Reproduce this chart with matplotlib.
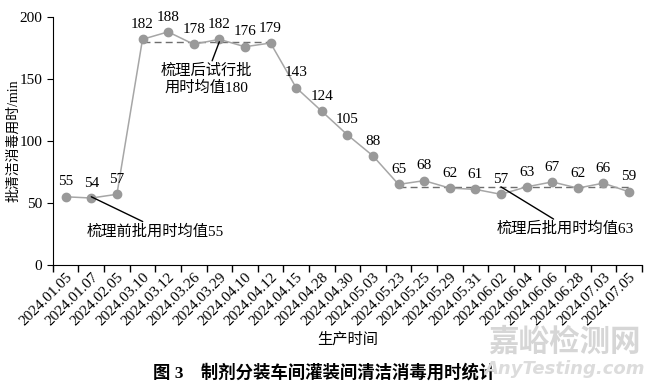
import matplotlib.pyplot as plt
import numpy as np

plt.rcParams['font.family'] = ['Liberation Serif', 'Noto Sans CJK SC']

dates = ['2024.01.05', '2024.01.07', '2024.02.05', '2024.03.10', '2024.03.12',
         '2024.03.26', '2024.03.29', '2024.04.10', '2024.04.12', '2024.04.15',
         '2024.04.28', '2024.04.30', '2024.05.03', '2024.05.23', '2024.05.25',
         '2024.05.29', '2024.05.31', '2024.06.02', '2024.06.04', '2024.06.06',
         '2024.06.28', '2024.07.03', '2024.07.05']
minutes = [55, 54, 57, 182, 188, 178, 182, 176, 179, 143, 124, 105, 88,
           65, 68, 62, 61, 57, 63, 67, 62, 66, 59]
# 均值线: (起始序号, 结束序号, 均值)
mean_trial = (3, 8, 180)
mean_after = (13, 22, 63)

fig = plt.figure(figsize=(6.45, 3.86), dpi=100)
ax = fig.add_axes([0.082, 0.3135, 0.913, 0.6425])

x = np.arange(len(dates))
ax.plot(x, minutes, color='#a6a6a6', lw=1.1, marker='o', ms=6,
        markerfacecolor='#999999', markeredgecolor='#999999', zorder=3)
for s, e, m in (mean_trial, mean_after):
    ax.plot([s, e], [m, m], color='#6e6e6e', lw=1, ls=(0, (5, 3)), zorder=2)

for xi, v in zip(x, minutes):
    ax.annotate(str(v), (xi, v), xytext=(0, 6), textcoords='offset points',
                ha='center', va='bottom', fontsize=11)

ax.set_xlim(-0.5, len(dates) - 0.5)
ax.set_ylim(0, 200)
ax.set_yticks([0, 50, 100, 150, 200])
ax.set_xticks(x)
ax.set_xticklabels(dates, rotation=45, ha='right', rotation_mode='anchor', fontsize=11)
ax.set_xticks(np.arange(-0.5, len(dates)), minor=True)
ax.tick_params(axis='x', which='major', length=0, pad=4)
ax.tick_params(axis='x', which='minor', length=5, width=1, direction='out')
ax.tick_params(axis='y', labelsize=11, length=4, direction='out')
ax.spines['top'].set_visible(False)
ax.spines['right'].set_visible(False)

ax.set_ylabel('批清洁消毒用时/min', fontsize=10)
ax.yaxis.set_label_coords(-0.056, 0.5)
ax.set_xlabel('生产时间', fontsize=11, labelpad=3)

# 注释
ax.annotate('梳理后试行批\n用时均值180', xy=(6, 180), xytext=(5.5, 150),
            ha='center', va='center', fontsize=11, linespacing=1.2,
            arrowprops=dict(arrowstyle='-', color='black', lw=1, shrinkA=0, shrinkB=0,
                            relpos=(0.55, 1.0)))
ax.annotate('梳理前批用时均值55', xy=(1, 55), xytext=(3.5, 27),
            ha='center', va='center', fontsize=11,
            arrowprops=dict(arrowstyle='-', color='black', lw=1, shrinkA=0, shrinkB=0,
                            relpos=(0.45, 1.0)))
ax.annotate('梳理后批用时均值63', xy=(17, 63), xytext=(19.5, 29),
            ha='center', va='center', fontsize=11,
            arrowprops=dict(arrowstyle='-', color='black', lw=1, shrinkA=0, shrinkB=0,
                            relpos=(0.45, 1.0)))

fig.text(0.504, 0.034, '图 3　制剂分装车间灌装间清洁消毒用时统计', ha='center', va='center',
         fontsize=12.5, fontweight='bold', family=['Liberation Serif', 'Noto Sans CJK SC'])
fig.text(0.875, 0.115, '嘉峪检测网', ha='center', va='center', fontsize=22,
         color='#d6d6d6', fontweight='bold', family=['Noto Sans CJK SC'])
fig.text(0.875, 0.045, 'AnyTesting.com', ha='center', va='center', fontsize=13,
         color='#dcdcdc', style='italic', fontweight='bold', family=['DejaVu Sans'])

fig.savefig('out.png', dpi=100)
